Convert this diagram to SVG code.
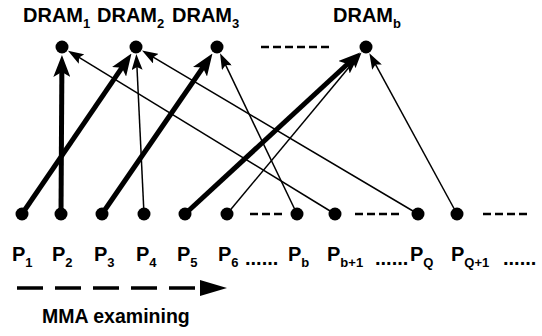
<svg xmlns="http://www.w3.org/2000/svg" width="542" height="336" viewBox="0 0 542 336">
<defs>
<style>
.lbl{font-family:"Liberation Sans",Arial,sans-serif;font-weight:bold;fill:#000}
.big{font-size:20px}
.pl{font-size:20px}
.sub{font-size:13px}
.thick{stroke:#000;stroke-width:5;fill:none;marker-end:url(#ahThick)}
.thin{stroke:#000;stroke-width:1.5;fill:none;marker-end:url(#ahThin)}
.dash{stroke:#000;stroke-width:2.5;stroke-dasharray:8 4;fill:none}
.dot{fill:#000}
</style>
<marker id="ahThick" markerUnits="userSpaceOnUse" markerWidth="22" markerHeight="17" viewBox="0 0 22 17" refX="6" refY="8.5" orient="auto">
<path d="M0,0 L22,8.5 L0,17 L5,8.5 z" fill="#000"/>
</marker>
<marker id="ahThin" markerUnits="userSpaceOnUse" markerWidth="16" markerHeight="11" viewBox="0 0 16 11" refX="4" refY="5.5" orient="auto">
<path d="M0,0 L16,5.5 L0,11 L3,5.5 z" fill="#000"/>
</marker>
</defs>
<rect width="542" height="336" fill="#fff"/>

<g id="connectors">
<line class="thick" x1="22" y1="214" x2="122.47" y2="66.82"/>
<line class="thick" x1="61" y1="214" x2="61.86" y2="71"/>
<line class="thick" x1="102" y1="214" x2="203.39" y2="66.77"/>
<line class="thin" x1="144" y1="214" x2="136.91" y2="65.98"/>
<line class="thick" x1="185" y1="214" x2="348.36" y2="63.27"/>
<line class="thin" x1="227" y1="214" x2="353.85" y2="61.6"/>
<line class="thin" x1="297" y1="214" x2="225.21" y2="64.14"/>
<line class="thin" x1="335" y1="214" x2="78.21" y2="56.91"/>
<line class="thin" x1="418" y1="214" x2="152.35" y2="56.68"/>
<line class="thin" x1="457" y1="214" x2="375.09" y2="63.68"/>
</g>

<g id="DRAM1"><circle class="dot" cx="62" cy="47" r="6.5"/><text class="lbl big" x="23" y="22">DRAM<tspan class="sub" dy="6">1</tspan></text></g>
<g id="DRAM2"><circle class="dot" cx="136" cy="47" r="6.5"/><text class="lbl big" x="97" y="22">DRAM<tspan class="sub" dy="6">2</tspan></text></g>
<g id="DRAM3"><circle class="dot" cx="217" cy="47" r="6.5"/><text class="lbl big" x="172" y="22">DRAM<tspan class="sub" dy="6">3</tspan></text></g>
<g id="DRAMb"><circle class="dot" cx="366" cy="47" r="6.5"/><text class="lbl big" x="333" y="22">DRAM<tspan class="sub" dy="6">b</tspan></text></g>

<g id="P1"><circle class="dot" cx="22" cy="214" r="6.5"/><text class="lbl pl" x="12" y="261">P<tspan class="sub" dy="6">1</tspan></text></g>
<g id="P2"><circle class="dot" cx="61" cy="214" r="6.5"/><text class="lbl pl" x="52" y="261">P<tspan class="sub" dy="6">2</tspan></text></g>
<g id="P3"><circle class="dot" cx="102" cy="214" r="6.5"/><text class="lbl pl" x="94" y="261">P<tspan class="sub" dy="6">3</tspan></text></g>
<g id="P4"><circle class="dot" cx="144" cy="214" r="6.5"/><text class="lbl pl" x="136" y="261">P<tspan class="sub" dy="6">4</tspan></text></g>
<g id="P5"><circle class="dot" cx="185" cy="214" r="6.5"/><text class="lbl pl" x="177" y="261">P<tspan class="sub" dy="6">5</tspan></text></g>
<g id="P6"><circle class="dot" cx="227" cy="214" r="6.5"/><text class="lbl pl" x="218" y="261">P<tspan class="sub" dy="6">6</tspan><tspan x="245" y="265">......</tspan></text></g>
<g id="Pb"><circle class="dot" cx="297" cy="214" r="6.5"/><text class="lbl pl" x="288" y="261">P<tspan class="sub" dy="6">b</tspan></text></g>
<g id="Pb1"><circle class="dot" cx="335" cy="214" r="6.5"/><text class="lbl pl" x="327" y="261">P<tspan class="sub" dy="6">b+1</tspan><tspan x="375" y="265">......</tspan></text></g>
<g id="PQ"><circle class="dot" cx="418" cy="214" r="6.5"/><text class="lbl pl" x="410" y="261">P<tspan class="sub" dy="6">Q</tspan></text></g>
<g id="PQ1"><circle class="dot" cx="457" cy="214" r="6.5"/><text class="lbl pl" x="451" y="261">P<tspan class="sub" dy="6">Q+1</tspan><tspan x="503" y="265">......</tspan></text></g>

<g id="ellipses">
<line class="dash" x1="261" y1="47" x2="329" y2="47"/>
<line class="dash" x1="250" y1="214" x2="282" y2="214"/>
<line class="dash" x1="355" y1="214" x2="399" y2="214"/>
<line class="dash" x1="483" y1="214" x2="527" y2="214"/>
</g>

<g id="mma">
<line x1="17" y1="288" x2="200" y2="288" stroke="#000" stroke-width="3.5" stroke-dasharray="26 12"/>
<polygon points="200,280 227,288 200,296" fill="#000"/>
<text class="lbl" style="font-size:19.5px" x="42" y="323">MMA examining</text>
</g>
</svg>
